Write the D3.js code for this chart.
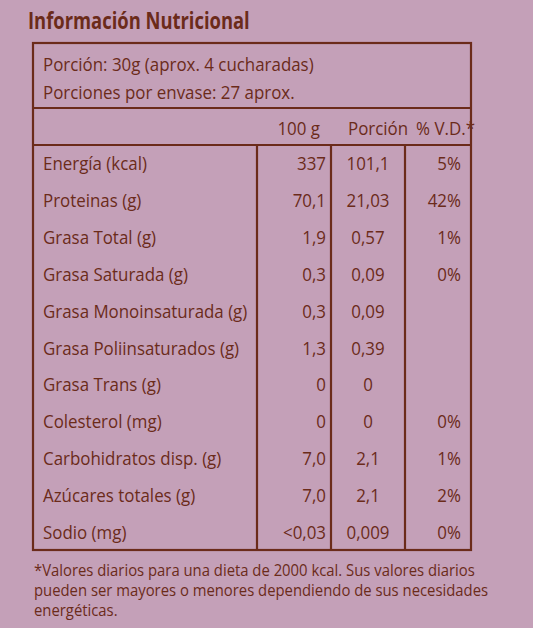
<!DOCTYPE html><html><head><meta charset="utf-8">
<script src="https://cdn.jsdelivr.net/npm/d3@7"></script>
<style>body{margin:0;background:#c4a0b8}</style></head><body>
<script>
const nutrients=["Energía (kcal)","Proteinas (g)","Grasa Total (g)","Grasa Saturada (g)","Grasa Monoinsaturada (g)","Grasa Poliinsaturados (g)","Grasa Trans (g)","Colesterol (mg)","Carbohidratos disp. (g)","Azúcares totales (g)","Sodio (mg)"];
const per100=["337","70,1","1,9","0,3","0,3","1,3","0","0","7,0","7,0","<0,03"];
const perPortion=["101,1","21,03","0,57","0,09","0,09","0,39","0","0","2,1","2,1","0,009"];
const vd=["5%","42%","1%","0%","","","","0%","1%","2%","0%"];
const headers=["100 g","Porción","% V.D.*"];
const C="#6b2b1a",W=533,H=628;
const svg=d3.select("body").append("svg").attr("width",W).attr("height",H);
svg.append("rect").attr("width",W).attr("height",H).attr("fill","#c4a0b8");
const F="'Open Sans',sans-serif";
const tt=(x,yy,s,a,size,sx,w)=>svg.append("g").attr("transform",`translate(${x},${yy}) scale(${sx},1)`)
 .append("text").attr("text-anchor",a).attr("fill",C).attr("font-family",F).attr("font-size",size).attr("font-weight",w||"normal").text(s);
tt(28,29,"Información Nutricional","start",23,0.8,"bold");
const L=33,R=471,T=43;
const y=d3.scaleBand().domain(nutrients).range([145,550]);
const g=svg.append("g").attr("stroke",C).attr("stroke-width",2.2).attr("fill","none");
g.append("rect").attr("x",L).attr("y",T).attr("width",R-L).attr("height",550-T);
[108,145].forEach(v=>g.append("line").attr("x1",L).attr("x2",R).attr("y1",v).attr("y2",v));
[257,331,405].forEach(v=>g.append("line").attr("x1",v).attr("x2",v).attr("y1",145).attr("y2",550));
const t=(x,yy,s,a="start")=>tt(x,yy,s,a,19,0.89);
t(43,71,"Porción: 30g (aprox. 4 cucharadas)");
t(43,99,"Porciones por envase: 27 aprox.");
t(320,135,headers[0],"end");t(348,135,headers[1]);t(475,135,headers[2],"end");
nutrients.forEach((n,i)=>{const yy=y(n)+y.bandwidth()/2+7;
 t(43,yy,n);t(326,yy,per100[i],"end");t(368,yy,perPortion[i],"middle");t(461,yy,vd[i],"end");});
const foot=["*Valores diarios para una dieta de 2000 kcal. Sus valores diarios","pueden ser mayores o menores dependiendo de sus necesidades","energéticas."];
foot.forEach((s,i)=>tt(34,576+i*20,s,"start",16.5,0.9));
</script></body></html>
